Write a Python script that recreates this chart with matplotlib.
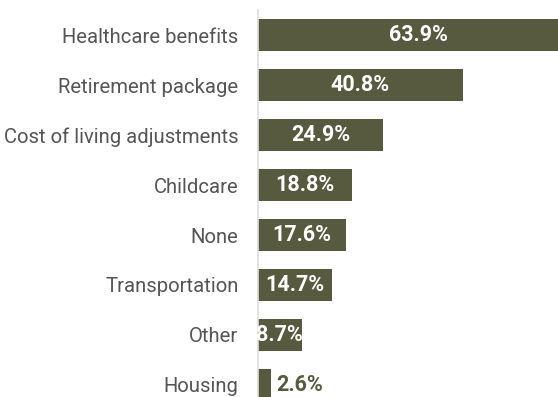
import matplotlib.pyplot as plt

categories = ['Healthcare benefits', 'Retirement package', 'Cost of living adjustments',
              'Childcare', 'None', 'Transportation', 'Other', 'Housing']
values = [63.9, 40.8, 24.9, 18.8, 17.6, 14.7, 8.7, 2.6]

bar_color = '#575a3e'

plt.rcParams['font.family'] = ['Roboto', 'DejaVu Sans']

fig = plt.figure(figsize=(5.58, 3.97), dpi=100)
ax = fig.add_axes([258 / 558, 0, 300 / 558, 387 / 397])

pos = list(range(len(categories)))
ax.barh(pos, values, height=0.64, color=bar_color)
ax.set_xlim(0, 59.76)
ax.set_ylim(7.24, -0.5)

ax.set_yticks(pos)
ax.set_yticklabels(categories, fontsize=14.6, color='#555555')
ax.tick_params(axis='y', length=0, pad=14)
ax.set_xticks([])

for s in ['top', 'right', 'bottom']:
    ax.spines[s].set_visible(False)
ax.spines['left'].set_color('#dddddd')
ax.spines['left'].set_linewidth(1.2)

# value labels: inside the bar when it is wide enough, otherwise just after it
for p, v in zip(pos, values):
    if v > 5:
        ax.text(v / 2, p, '%.1f%%' % v, ha='center', va='center',
                color='white', fontsize=15.5, fontweight='bold', clip_on=False)
    else:
        ax.text(v + 1, p, '%.1f%%' % v, ha='left', va='center',
                color=bar_color, fontsize=15.5, fontweight='bold')

fig.savefig('out.png', dpi=100)
